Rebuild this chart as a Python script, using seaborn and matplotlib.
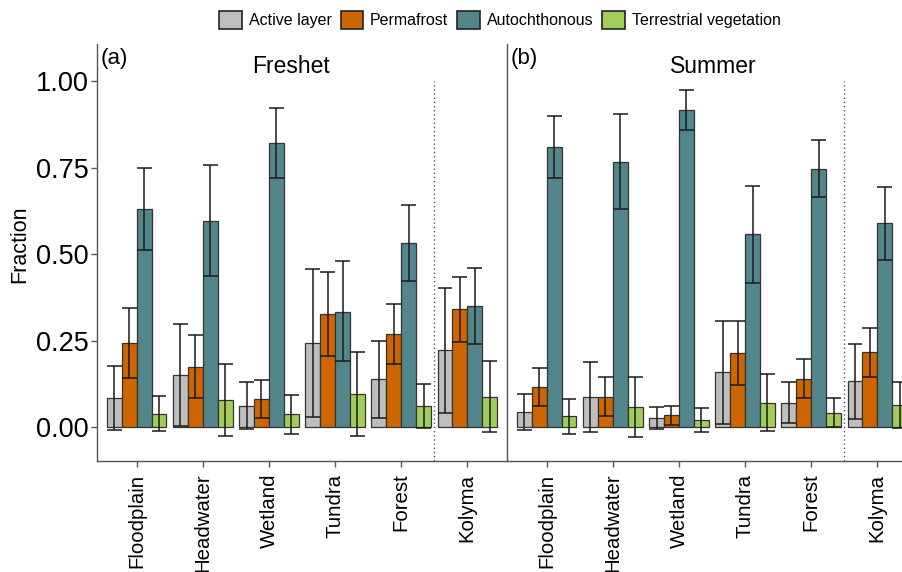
import pandas as pd
import matplotlib
matplotlib.use("Agg")
import matplotlib.pyplot as plt
from matplotlib.patches import Patch
import seaborn as sns

sns.set_theme(style="white")
plt.rcParams["font.family"] = ["Liberation Sans", "DejaVu Sans"]
plt.rcParams["text.color"] = "black"
plt.rcParams["xtick.color"] = "black"
plt.rcParams["ytick.color"] = "black"
plt.rcParams["axes.labelcolor"] = "black"

# Data
sites = ["Floodplain", "Headwater", "Wetland", "Tundra", "Forest", "Kolyma"]
sources = ["Active layer", "Permafrost", "Autochthonous", "Terrestrial vegetation"]
colors = ["#BEBEBE", "#CD6600", "#53868B", "#A2CD5A"]

# Freshet: mean, lower, upper per source (one value per site)
fr_active = [0.085, 0.150, 0.061, 0.242, 0.138, 0.223]
fr_active_lo = [-0.007, 0.002, -0.006, 0.029, 0.025, 0.041]
fr_active_hi = [0.177, 0.298, 0.129, 0.456, 0.250, 0.402]
fr_perma = [0.243, 0.174, 0.081, 0.327, 0.269, 0.340]
fr_perma_lo = [0.143, 0.085, 0.026, 0.206, 0.181, 0.247]
fr_perma_hi = [0.344, 0.265, 0.136, 0.449, 0.357, 0.433]
fr_auto = [0.631, 0.596, 0.821, 0.334, 0.533, 0.351]
fr_auto_lo = [0.513, 0.436, 0.720, 0.191, 0.423, 0.240]
fr_auto_hi = [0.750, 0.758, 0.922, 0.479, 0.642, 0.461]
fr_veg = [0.038, 0.078, 0.037, 0.095, 0.061, 0.088]
fr_veg_lo = [-0.010, -0.026, -0.019, -0.027, -0.002, -0.015]
fr_veg_hi = [0.089, 0.183, 0.094, 0.217, 0.125, 0.190]

# Summer
su_active = [0.044, 0.088, 0.026, 0.159, 0.070, 0.132]
su_active_lo = [-0.007, -0.013, -0.005, 0.009, 0.012, 0.022]
su_active_hi = [0.096, 0.188, 0.058, 0.307, 0.130, 0.241]
su_perma = [0.116, 0.088, 0.034, 0.215, 0.140, 0.216]
su_perma_lo = [0.060, 0.033, 0.007, 0.122, 0.084, 0.145]
su_perma_hi = [0.172, 0.144, 0.061, 0.307, 0.196, 0.287]
su_auto = [0.808, 0.766, 0.917, 0.557, 0.747, 0.589]
su_auto_lo = [0.720, 0.629, 0.859, 0.416, 0.664, 0.483]
su_auto_hi = [0.898, 0.904, 0.975, 0.697, 0.829, 0.695]
su_veg = [0.031, 0.058, 0.021, 0.070, 0.041, 0.063]
su_veg_lo = [-0.019, -0.029, -0.013, -0.012, 0.000, -0.003]
su_veg_hi = [0.080, 0.145, 0.055, 0.153, 0.084, 0.131]

yticks = [0.0, 0.25, 0.5, 0.75, 1.0]
ytick_labels = ["0.00", "0.25", "0.50", "0.75", "1.00"]


def make_table(means, lows, highs):
    rows = []
    for src, m, lo, hi in zip(sources, means, lows, highs):
        for i, site in enumerate(sites):
            rows.append({"site": site, "source": src, "value": m[i],
                         "lo": lo[i], "hi": hi[i]})
    return pd.DataFrame(rows)


freshet = make_table([fr_active, fr_perma, fr_auto, fr_veg],
                     [fr_active_lo, fr_perma_lo, fr_auto_lo, fr_veg_lo],
                     [fr_active_hi, fr_perma_hi, fr_auto_hi, fr_veg_hi])
summer = make_table([su_active, su_perma, su_auto, su_veg],
                    [su_active_lo, su_perma_lo, su_auto_lo, su_veg_lo],
                    [su_active_hi, su_perma_hi, su_auto_hi, su_veg_hi])

fig = plt.figure(figsize=(9.02, 5.72), dpi=100)
W, H = 902, 572
ax_a = fig.add_axes([97 / W, 1 - 461 / H, 410 / W, (461 - 44) / H])
ax_b = fig.add_axes([507 / W, 1 - 461 / H, 410 / W, (461 - 44) / H])

ymin, ymax = -0.098, 1.107
axis_col = "#555555"


def draw_panel(ax, df, title, tag, title_x):
    sns.barplot(data=df, x="site", y="value", hue="source", order=sites,
                hue_order=sources, palette=colors, saturation=1, width=0.9,
                errorbar=None, edgecolor="#333333", linewidth=0.9,
                legend=False, ax=ax)
    # error bars from the bar positions
    bars = sorted([p for p in ax.patches], key=lambda p: p.get_x())
    lookup = df.set_index(["site", "source"])
    k = 0
    for site in sites:
        for src in sources:
            p = bars[k]
            k += 1
            x0 = p.get_x()
            x1 = x0 + p.get_width()
            cx = x0 + p.get_width() / 2
            lo = lookup.loc[(site, src), "lo"]
            hi = lookup.loc[(site, src), "hi"]
            ax.vlines(cx, lo, hi, color="#1a1a1a", lw=1.1, zorder=5)
            ax.hlines([lo, hi], x0, x1, color="#1a1a1a", lw=1.1, zorder=5)
    ax.plot([4.5, 4.5], [ymin, 1.0], ls=(0, (1, 2)), color="#555555", lw=1.0)
    ax.set_xlim(-0.6, 5.6)
    ax.set_ylim(ymin, ymax)
    ax.set_xlabel("")
    ax.set_ylabel("")
    for s in ["top", "right"]:
        ax.spines[s].set_visible(False)
    for s in ["left", "bottom"]:
        ax.spines[s].set_color(axis_col)
        ax.spines[s].set_linewidth(1.0)
    ax.tick_params(axis="x", labelsize=14.7, rotation=90, length=4,
                   width=1, color=axis_col, labelcolor="black", pad=5,
                   bottom=True)
    ax.text(0.01, 0.99, tag, transform=ax.transAxes, ha="left", va="top",
            fontsize=16, color="black")
    ax.text(title_x, 0.947, title, transform=ax.transAxes, ha="center",
            va="center", fontsize=16.5, color="black")


draw_panel(ax_a, freshet, "Freshet", "(a)", 0.473)
draw_panel(ax_b, summer, "Summer", "(b)", 0.502)

ax_a.set_yticks(yticks)
ax_a.set_yticklabels(ytick_labels)
ax_a.tick_params(axis="y", labelsize=19.5, length=4, width=1, color=axis_col,
                 labelcolor="black", pad=2, left=True)
ax_a.set_ylabel("Fraction", fontsize=15.5, color="black")
ax_a.yaxis.set_label_coords(-0.163, 0.52)

ax_b.set_yticks([])

handles = [Patch(facecolor=c, edgecolor="#222222", linewidth=1.2)
           for c in colors]
fig.legend(handles, sources, loc="center", bbox_to_anchor=(500 / W, 1 - 20 / H),
           ncol=4, frameon=False, fontsize=11.5, handlelength=1.4,
           handleheight=1.4, handletextpad=0.45, columnspacing=0.55)

plt.savefig("out.png", dpi=100)
